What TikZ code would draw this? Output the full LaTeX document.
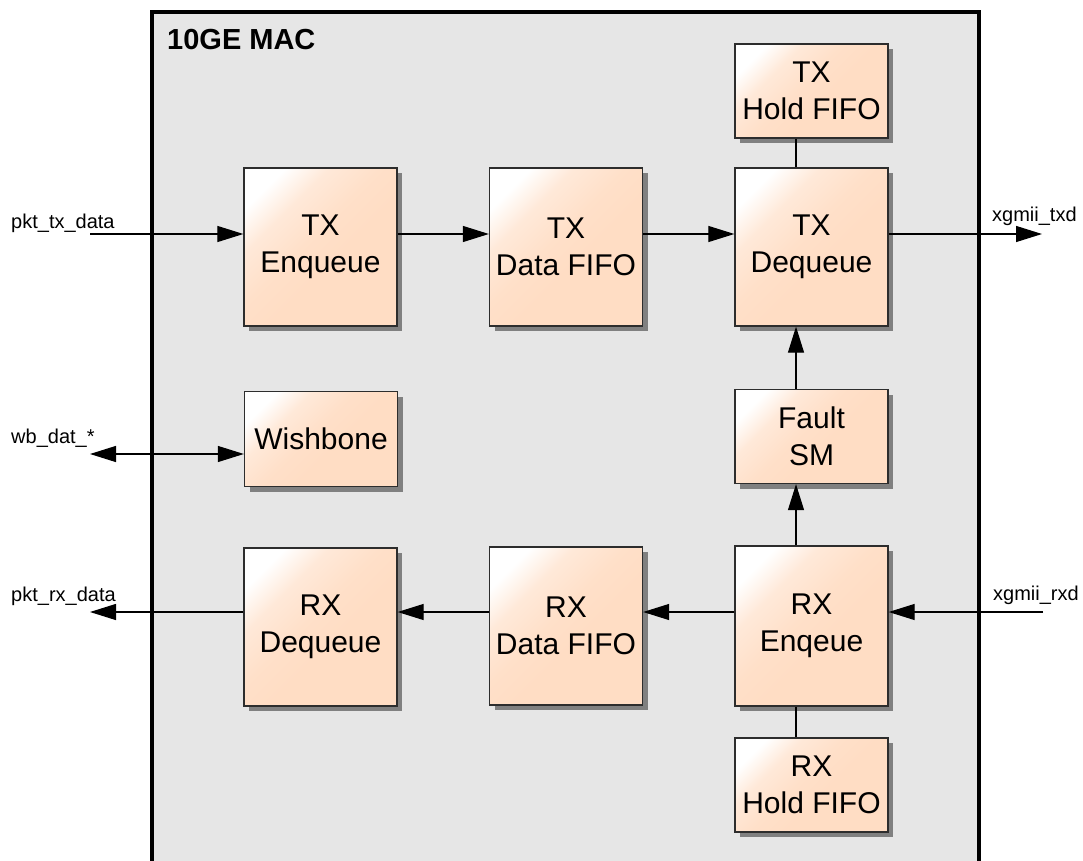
\documentclass[tikz,border=0pt]{standalone}
\usepackage{fontspec}
\setmainfont{Liberation Sans}
\usetikzlibrary{arrows.meta,shadows}
\definecolor{peach}{RGB}{255,221,196}
\definecolor{macbg}{RGB}{230,230,230}
\definecolor{shadowgray}{RGB}{128,128,128}
\definecolor{boxline}{RGB}{45,45,45}
\pgfdeclarehorizontalshading{peachshade}{100bp}{color(0bp)=(white); color(24bp)=(white); color(34bp)=(peach!65!white); color(46bp)=(peach!92!white); color(56bp)=(peach); color(100bp)=(peach)}
\tikzset{
  blk/.style={draw=boxline, line width=1.3pt, shading=peachshade, shading angle=-45,
    drop shadow={shadow xshift=5pt, shadow yshift=-5pt, fill=shadowgray, opacity=1},
    minimum width=153pt, align=center, inner sep=0pt,
    font=\fontsize{30}{37}\selectfont},
  tall/.style={blk, minimum height=158pt},
  short/.style={blk, minimum height=94pt},
  conn/.style={line width=1.2pt, black},
  arr/.style={conn, -{Triangle[length=26pt,width=16pt]}},
  darr/.style={conn, {Triangle[length=26pt,width=16pt]}-{Triangle[length=26pt,width=16pt]}},
  sig/.style={anchor=base west, inner sep=0pt, font=\fontsize{20}{24}\selectfont},
}
\begin{document}
\begin{tikzpicture}[x=1pt,y=-1pt]
\clip (0,0) rectangle (1083,861);
\fill[white] (0,0) rectangle (1083,861);
% outer MAC box
\draw[line width=4pt, fill=macbg] (152,12) rectangle (979,900);
\node[anchor=base west, inner sep=0pt, font=\fontsize{29}{34}\selectfont\bfseries] (title) at (167,50) {10GE MAC};

% blocks
\node[tall]  (txenq)  at (320.5,247) {TX\\Enqueue};
\node[tall]  (txfifo) at (566,247)   {TX\\Data FIFO};
\node[tall]  (txdq)   at (811.5,247) {TX\\Dequeue};
\node[short] (txhold) at (811.5,91)  {TX\\Hold FIFO};
\node[short] (fault)  at (811.5,436.5) {Fault\\SM};
\node[blk, minimum height=95pt] (wb) at (321,439) {Wishbone};
\node[tall]  (rxdq)   at (320.5,627) {RX\\Dequeue};
\node[tall]  (rxfifo) at (566,626)   {RX\\Data FIFO};
\node[blk, minimum height=160pt] (rxenq) at (811.5,626) {RX\\Enqeue};
\node[short] (rxhold) at (811.5,785) {RX\\Hold FIFO};

% reference lines
\coordinate (txline) at (0,234);
\coordinate (wbline) at (0,454);
\coordinate (rxline) at (0,612);
\coordinate (vline)  at (796,0);

% external ends
\coordinate (pkttx) at (90,234);
\coordinate (xtx)   at (1042,234);
\coordinate (wbext) at (90,454);
\coordinate (pktrx) at (90,612);
\coordinate (xrx)   at (1043,612);

% signal labels
\node[sig] (lpkttx) at (11,228) {pkt\_tx\_data};
\node[sig] (lxtx)   at (992,221) {xgmii\_txd};
\node[sig] (lwb)    at (11,443) {wb\_dat\_*};
\node[sig] (lpktrx) at (11,601) {pkt\_rx\_data};
\node[sig] (lxrx)   at (993,600) {xgmii\_rxd};

% TX path
\draw[arr] (pkttx) -- (txenq.west |- txline);
\draw[arr] (txenq.east |- txline) -- (txfifo.west |- txline);
\draw[arr] (txfifo.east |- txline) -- (txdq.west |- txline);
\draw[arr] (txdq.east |- txline) -- (xtx);
\draw[conn] (txhold.south -| vline) -- (txdq.north -| vline);

% wishbone
\draw[darr] (wbext) -- (wb.west |- wbline);

% fault path
\draw[arr] (fault.north -| vline) -- (txdq.south -| vline);
\draw[arr] (rxenq.north -| vline) -- (fault.south -| vline);

% RX path
\draw[arr] (xrx) -- (rxenq.east |- rxline);
\draw[arr] (rxenq.west |- rxline) -- (rxfifo.east |- rxline);
\draw[arr] (rxfifo.west |- rxline) -- (rxdq.east |- rxline);
\draw[arr] (rxdq.west |- rxline) -- (pktrx);
\draw[conn] (rxenq.south -| vline) -- (rxhold.north -| vline);
\end{tikzpicture}
\end{document}
